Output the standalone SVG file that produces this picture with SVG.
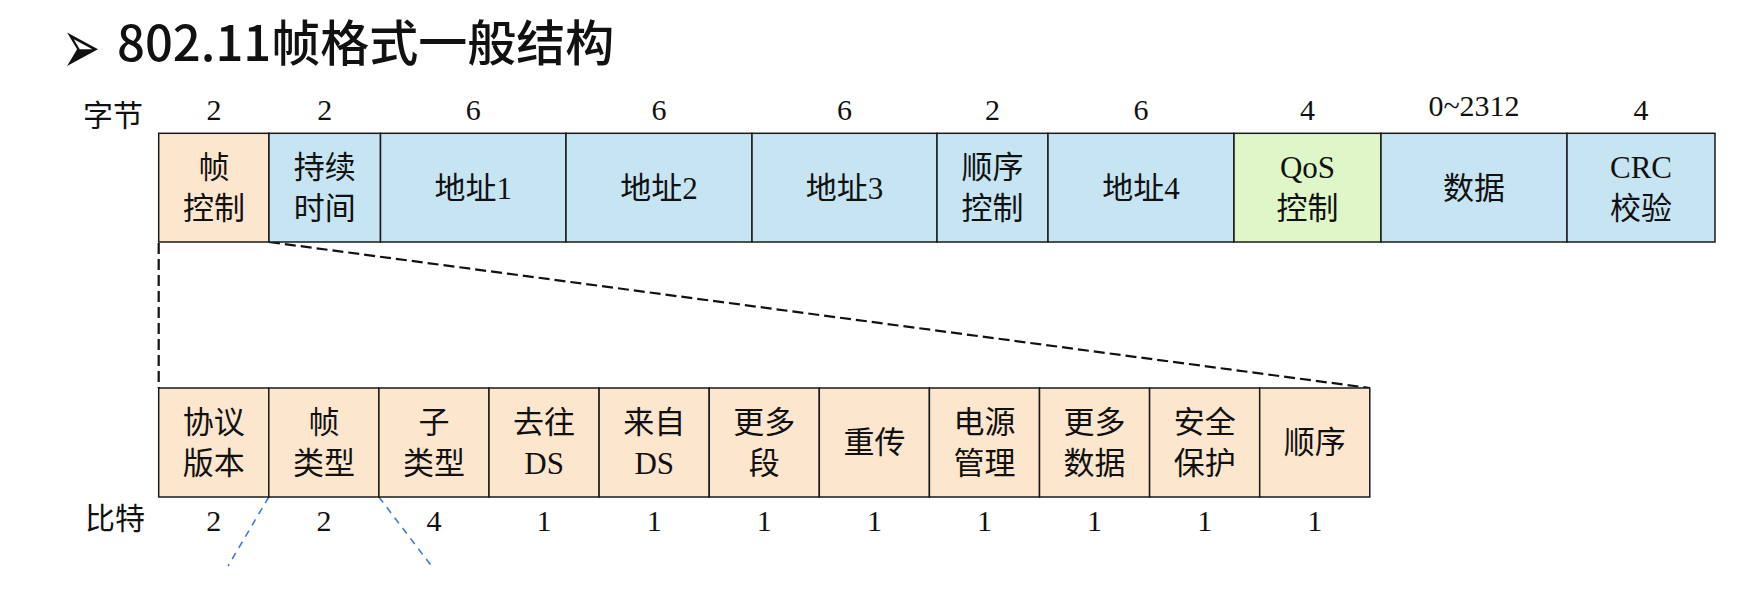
<svg xmlns="http://www.w3.org/2000/svg" width="1746" height="598" viewBox="0 0 1746 598">
<style>
.t{font-family:"Liberation Serif","Noto Sans CJK SC",serif;font-size:31px;fill:#111;text-anchor:middle}
.n{font-family:"Liberation Serif","Noto Sans CJK SC",serif;font-size:30px;fill:#111;text-anchor:middle}
.lab{font-family:"Liberation Serif","Noto Sans CJK SC",serif;font-size:30px;fill:#111}
.c{stroke:#1a1a1a;stroke-width:1.5}
.pe{fill:#FDE6CE}
.bl{fill:#C6E4F1}
.gr{fill:#DEF6C8}
.dk{stroke:#111;stroke-width:2.2;stroke-dasharray:11 5;fill:none}
.bd{stroke:#3F7BD9;stroke-width:1.6;stroke-dasharray:7 6;fill:none}
</style>
<rect width="1746" height="598" fill="#fff"/>
<g id="title">
<text transform="translate(62,73) scale(1.2,2)" font-family="DejaVu Sans, sans-serif" font-size="38" fill="#111">➢</text>
<text x="117" y="61" font-family="Noto Sans CJK SC, sans-serif" font-size="49" font-weight="500" fill="#111">802.11帧格式一般结构</text>
</g>
<g id="row-labels">
<text class="lab" x="83" y="126">字节</text>
<text class="lab" x="85" y="529">比特</text>
</g>
<g id="byte-sizes">
<text class="n" x="213.9" y="120">2</text>
<text class="n" x="324.8" y="120">2</text>
<text class="n" x="473.3" y="120">6</text>
<text class="n" x="659" y="120">6</text>
<text class="n" x="844.5" y="120">6</text>
<text class="n" x="992.5" y="120">2</text>
<text class="n" x="1141" y="120">6</text>
<text class="n" x="1307.5" y="120">4</text>
<text class="n" x="1474" y="116">0~2312</text>
<text class="n" x="1641" y="120">4</text>
</g>
<g id="connectors">
<line class="dk" x1="158.7" y1="243" x2="158.7" y2="388"/>
<line class="dk" x1="269" y1="242" x2="1369.8" y2="388"/>
<line class="bd" x1="268.8" y1="497" x2="228" y2="566"/>
<line class="bd" x1="378.9" y1="497" x2="433" y2="568"/>
</g>
<g id="f-fc"><rect class="c pe" x="158.7" y="133.3" width="110.3" height="108.7"/><text class="t" x="213.9" y="178">帧</text><text class="t" x="213.9" y="219">控制</text></g>
<g id="f-dur"><rect class="c bl" x="269" y="133.3" width="111.5" height="108.7"/><text class="t" x="324.8" y="178">持续</text><text class="t" x="324.8" y="219">时间</text></g>
<g id="f-a1"><rect class="c bl" x="380.5" y="133.3" width="185.5" height="108.7"/><text class="t" x="473.3" y="199">地址1</text></g>
<g id="f-a2"><rect class="c bl" x="566" y="133.3" width="186" height="108.7"/><text class="t" x="659" y="199">地址2</text></g>
<g id="f-a3"><rect class="c bl" x="752" y="133.3" width="185" height="108.7"/><text class="t" x="844.5" y="199">地址3</text></g>
<g id="f-seq"><rect class="c bl" x="937" y="133.3" width="111" height="108.7"/><text class="t" x="992.5" y="178">顺序</text><text class="t" x="992.5" y="219">控制</text></g>
<g id="f-a4"><rect class="c bl" x="1048" y="133.3" width="186" height="108.7"/><text class="t" x="1141" y="199">地址4</text></g>
<g id="f-qos"><rect class="c gr" x="1234" y="133.3" width="147" height="108.7"/><text class="t" x="1307.5" y="178">QoS</text><text class="t" x="1307.5" y="219">控制</text></g>
<g id="f-data"><rect class="c bl" x="1381" y="133.3" width="186" height="108.7"/><text class="t" x="1474" y="199">数据</text></g>
<g id="f-crc"><rect class="c bl" x="1567" y="133.3" width="148" height="108.7"/><text class="t" x="1641" y="178">CRC</text><text class="t" x="1641" y="219">校验</text></g>
<g id="b-ver"><rect class="c pe" x="158.7" y="388" width="110.1" height="109"/><text class="t" x="213.8" y="433">协议</text><text class="t" x="213.8" y="474">版本</text><text class="n" x="213.8" y="531">2</text></g>
<g id="b-type"><rect class="c pe" x="268.8" y="388" width="110.1" height="109"/><text class="t" x="323.9" y="433">帧</text><text class="t" x="323.9" y="474">类型</text><text class="n" x="323.9" y="531">2</text></g>
<g id="b-sub"><rect class="c pe" x="378.9" y="388" width="110.1" height="109"/><text class="t" x="434" y="433">子</text><text class="t" x="434" y="474">类型</text><text class="n" x="434" y="531">4</text></g>
<g id="b-tods"><rect class="c pe" x="489" y="388" width="110.1" height="109"/><text class="t" x="544.1" y="433">去往</text><text class="t" x="544.1" y="474">DS</text><text class="n" x="544.1" y="531">1</text></g>
<g id="b-fromds"><rect class="c pe" x="599.1" y="388" width="110.1" height="109"/><text class="t" x="654.2" y="433">来自</text><text class="t" x="654.2" y="474">DS</text><text class="n" x="654.2" y="531">1</text></g>
<g id="b-morefrag"><rect class="c pe" x="709.2" y="388" width="110.1" height="109"/><text class="t" x="764.3" y="433">更多</text><text class="t" x="764.3" y="474">段</text><text class="n" x="764.3" y="531">1</text></g>
<g id="b-retry"><rect class="c pe" x="819.3" y="388" width="110.1" height="109"/><text class="t" x="874.4" y="453">重传</text><text class="n" x="874.4" y="531">1</text></g>
<g id="b-pwr"><rect class="c pe" x="929.4" y="388" width="110.1" height="109"/><text class="t" x="984.5" y="433">电源</text><text class="t" x="984.5" y="474">管理</text><text class="n" x="984.5" y="531">1</text></g>
<g id="b-moredata"><rect class="c pe" x="1039.5" y="388" width="110.1" height="109"/><text class="t" x="1094.6" y="433">更多</text><text class="t" x="1094.6" y="474">数据</text><text class="n" x="1094.6" y="531">1</text></g>
<g id="b-sec"><rect class="c pe" x="1149.6" y="388" width="110.1" height="109"/><text class="t" x="1204.7" y="433">安全</text><text class="t" x="1204.7" y="474">保护</text><text class="n" x="1204.7" y="531">1</text></g>
<g id="b-order"><rect class="c pe" x="1259.7" y="388" width="110.1" height="109"/><text class="t" x="1314.8" y="453">顺序</text><text class="n" x="1314.8" y="531">1</text></g>
</svg>
